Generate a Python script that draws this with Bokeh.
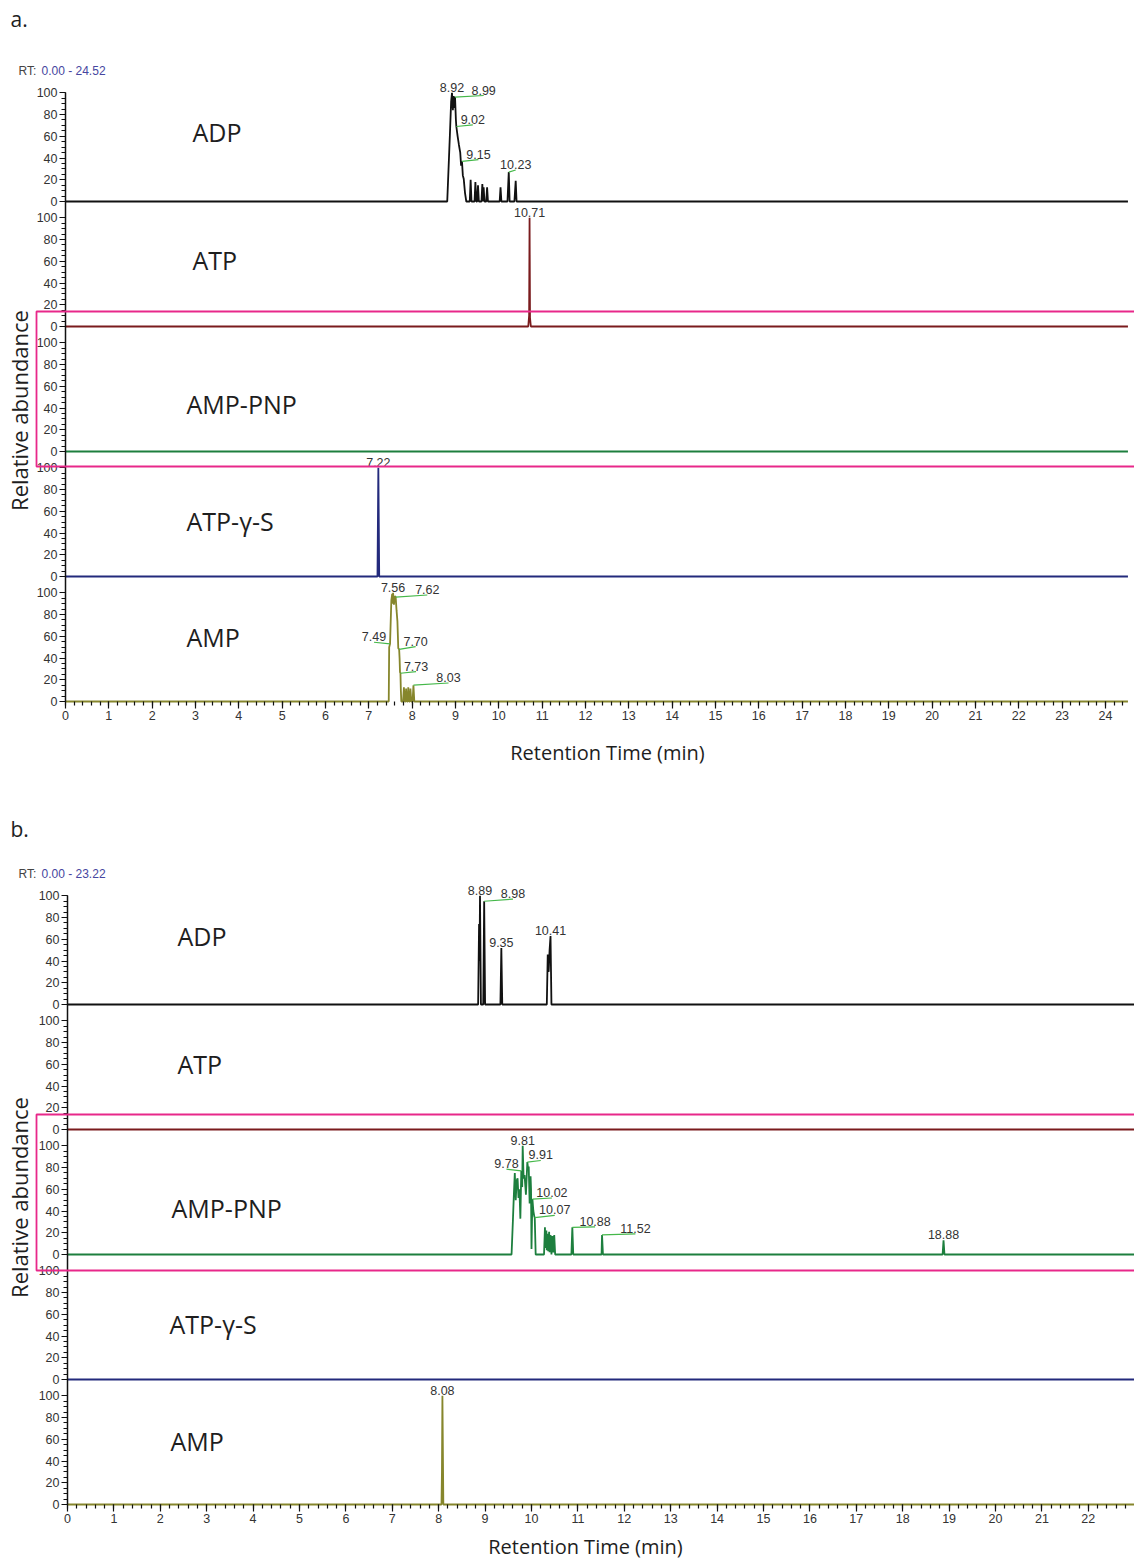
from bokeh.plotting import figure
from bokeh.models import Range1d, LinearAxis, FixedTicker, CustomJSTickFormatter, BoxAnnotation
from bokeh.layouts import column
from bokeh.embed import file_html
from bokeh.resources import INLINE
from bokeh.core.properties import value
import math

# ---------------- data ----------------
COMPOUNDS = ["ADP", "ATP", "AMP-PNP", "ATP-γ-S", "AMP"]
Y_TICK_LABELS = [0, 20, 40, 60, 80, 100]
A_X_TICKS = list(range(0, 25))
B_X_TICKS = list(range(0, 24))
A_RT_RANGE = "0.00 - 24.52"
B_RT_RANGE = "0.00 - 23.22"

# panel a traces (retention time, relative abundance)
A_ADP_T = [0.00, 8.81, 8.87, 8.90, 8.92, 8.94, 8.96, 8.97, 8.99, 9.01, 9.02, 9.05, 9.08, 9.11, 9.13, 9.15,
           9.17, 9.19, 9.22, 9.25, 9.33, 9.35, 9.37, 9.44, 9.46, 9.48, 9.50, 9.52, 9.54, 9.60, 9.62, 9.64,
           9.65, 9.67, 9.71, 9.73, 9.75, 10.02, 10.04, 10.06, 10.20, 10.23, 10.25, 10.36, 10.39, 10.41, 24.52]
A_ADP_Y = [0, 0, 60, 92, 100, 84, 97, 86, 96, 75, 69, 60, 52, 45, 33, 37,
           24, 21, 8, 0, 0, 20, 0, 0, 18, 0, 0, 15, 0, 0, 16, 0,
           13, 0, 0, 13, 0, 0, 13, 0, 0, 27, 0, 0, 19, 0, 0]
A_ATP_T = [0.00, 10.68, 10.70, 10.71, 10.72, 10.74, 24.52]
A_ATP_Y = [0, 0, 10, 100, 8, 0, 0]
A_PNP_T = [0.00, 24.52]
A_PNP_Y = [0, 0]
A_GS_T = [0.00, 7.20, 7.22, 7.24, 24.52]
A_GS_Y = [0, 0, 100, 0, 0]
A_AMP_T = [0.00, 7.46, 7.47, 7.49, 7.52, 7.54, 7.55, 7.56, 7.58, 7.60, 7.62, 7.64, 7.66, 7.68, 7.70, 7.71,
           7.72, 7.73, 7.74, 7.75, 7.79, 7.81, 7.83, 7.85, 7.86, 7.88, 7.90, 7.91, 7.93, 7.95, 7.96, 7.98,
           8.01, 8.03, 8.05, 24.52]
A_AMP_Y = [0, 0, 50, 53, 93, 99, 90, 100, 89, 97, 96, 84, 74, 49, 48, 40,
           27, 26, 10, 0, 0, 13, 0, 0, 12, 0, 0, 13, 0, 0, 12, 0,
           0, 15, 0, 0]

# panel a labelled peaks
A_ADP_PK_RT = [8.92, 8.99, 9.02, 9.15, 10.23]
A_ADP_PK_H = [100, 96, 69, 37, 27]
A_ATP_PK_RT = [10.71]
A_ATP_PK_H = [100]
A_PNP_PK_RT = []
A_PNP_PK_H = []
A_GS_PK_RT = [7.22]
A_GS_PK_H = [100]
A_AMP_PK_RT = [7.56, 7.62, 7.49, 7.70, 7.73, 8.03]
A_AMP_PK_H = [100, 96, 53, 48, 26, 15]

# panel b traces
B_ADP_T = [0.00, 8.85, 8.87, 8.88, 8.89, 8.91, 8.96, 8.98, 9.00, 9.33, 9.35, 9.37, 10.33, 10.35, 10.37,
           10.39, 10.41, 10.43, 23.22]
B_ADP_Y = [0, 0, 74, 40, 100, 0, 0, 95, 0, 0, 52, 0, 0, 46, 30, 50, 63, 0, 0]
B_ATP_T = [0.00, 23.22]
B_ATP_Y = [0, 0]
B_PNP_T = [0.00, 9.57, 9.60, 9.62, 9.64, 9.66, 9.68, 9.70, 9.72, 9.74, 9.76, 9.78, 9.80, 9.81, 9.83, 9.85,
           9.88, 9.91, 9.93, 9.94, 9.96, 9.98, 9.99, 10.00, 10.01, 10.02, 10.04, 10.06, 10.07, 10.09, 10.27,
           10.29, 10.30, 10.32, 10.33, 10.35, 10.36, 10.38, 10.39, 10.41, 10.43, 10.45, 10.47, 10.49, 10.51,
           10.86, 10.88, 10.90, 11.51, 11.52, 11.54, 18.86, 18.88, 18.90, 23.22]
B_PNP_Y = [0, 0, 32, 55, 75, 50, 68, 70, 52, 60, 33, 77, 62, 100, 70, 73,
           55, 85, 78, 81, 47, 72, 60, 5, 30, 51, 40, 35, 34, 0, 0,
           25, 6, 22, 4, 19, 3, 21, 2, 18, 0, 17, 2, 18, 0,
           0, 25, 0, 0, 18, 0, 0, 13, 0, 0]
B_GS_T = [0.00, 23.22]
B_GS_Y = [0, 0]
B_AMP_T = [0.00, 8.06, 8.07, 8.08, 8.10, 23.22]
B_AMP_Y = [0, 0, 30, 100, 0, 0]

# panel b labelled peaks
B_ADP_PK_RT = [8.89, 8.98, 9.35, 10.41]
B_ADP_PK_H = [100, 95, 52, 63]
B_ATP_PK_RT = []
B_ATP_PK_H = []
B_PNP_PK_RT = [9.81, 9.78, 9.91, 10.02, 10.07, 10.88, 11.52, 18.88]
B_PNP_PK_H = [100, 77, 85, 51, 34, 25, 18, 13]
B_GS_PK_RT = []
B_GS_PK_H = []
B_AMP_PK_RT = [8.08]
B_AMP_PK_H = [100]

# ---------------- label placement (positions, not data) ----------------
A_ADP_LAB_X = [8.92, 9.65, 9.40, 9.53, 10.39]
A_ADP_LAB_Y = [100, 97.5, 70.5, 38.5, 29]
A_AMP_LAB_X = [7.56, 8.35, 7.12, 8.08, 8.09, 8.84]
A_AMP_LAB_Y = [100, 98, 54.5, 50.5, 27.5, 17]
B_ADP_LAB_X = [8.89, 9.60, 9.35, 10.41]
B_ADP_LAB_Y = [100, 97, 52, 63]
B_PNP_LAB_X = [9.81, 9.46, 10.20, 10.44, 10.50, 11.37, 12.24, 18.88]
B_PNP_LAB_Y = [100, 78.5, 86.5, 52, 36, 25.5, 19, 13]

# ---------------- styles ----------------
COLORS = {"ADP": "#111111", "ATP": "#7a1b1d", "AMP-PNP": "#1d7f3e",
          "ATP-γ-S": "#232a7c", "AMP": "#86862c"}
LEADER = "#45b84a"
MAGENTA = "#e8288a"
W = 1134
ORIGIN_X = 0          # page x of the canvas left edge
BAND = 115            # units per band (100 % + gap)
K = 125 / BAND        # px per unit

PANELS = [
    dict(tag="a.", rt=A_RT_RANGE, top=0, height=800, x0=65, s=43.33, amp0=701,
         xticks=A_X_TICKS, minor_end=24.4,
         traces={"ADP": (A_ADP_T, A_ADP_Y, A_ADP_PK_RT, A_ADP_PK_H, A_ADP_LAB_X, A_ADP_LAB_Y),
                 "ATP": (A_ATP_T, A_ATP_Y, A_ATP_PK_RT, A_ATP_PK_H, A_ATP_PK_RT, A_ATP_PK_H),
                 "AMP-PNP": (A_PNP_T, A_PNP_Y, A_PNP_PK_RT, A_PNP_PK_H, A_PNP_PK_RT, A_PNP_PK_H),
                 "ATP-γ-S": (A_GS_T, A_GS_Y, A_GS_PK_RT, A_GS_PK_H, A_GS_PK_RT, A_GS_PK_H),
                 "AMP": (A_AMP_T, A_AMP_Y, A_AMP_PK_RT, A_AMP_PK_H, A_AMP_LAB_X, A_AMP_LAB_Y)},
         names_px=[(192, 131), (192, 259), (186, 403), (186, 520), (186, 636)],
         tag_px=(10, 18), rt_px=(18, 70), ylab_px=(18, 410), xlab_px=(607, 752),
         box_px=(36, 311, 466)),
    dict(tag="b.", rt=B_RT_RANGE, top=800, height=762, x0=67, s=46.4, amp0=1504,
         xticks=B_X_TICKS, minor_end=23.0,
         traces={"ADP": (B_ADP_T, B_ADP_Y, B_ADP_PK_RT, B_ADP_PK_H, B_ADP_LAB_X, B_ADP_LAB_Y),
                 "ATP": (B_ATP_T, B_ATP_Y, B_ATP_PK_RT, B_ATP_PK_H, B_ATP_PK_RT, B_ATP_PK_H),
                 "AMP-PNP": (B_PNP_T, B_PNP_Y, B_PNP_PK_RT, B_PNP_PK_H, B_PNP_LAB_X, B_PNP_LAB_Y),
                 "ATP-γ-S": (B_GS_T, B_GS_Y, B_GS_PK_RT, B_GS_PK_H, B_GS_PK_RT, B_GS_PK_H),
                 "AMP": (B_AMP_T, B_AMP_Y, B_AMP_PK_RT, B_AMP_PK_H, B_AMP_PK_RT, B_AMP_PK_H)},
         names_px=[(177, 935), (177, 1063), (171, 1207), (169, 1323), (170, 1440)],
         tag_px=(10, 828), rt_px=(18, 873), ylab_px=(18, 1197), xlab_px=(585, 1546),
         box_px=(36, 1114, 1270)),
]

SANS = value("Liberation Sans")
MYRIAD = value("Open Sans")


def make_panel(P):
    top, H, x0p, s, amp0 = P["top"], P["height"], P["x0"], P["s"], P["amp0"]
    c0 = amp0 - top
    x0c = x0p - ORIGIN_X
    xr = Range1d(-x0c / s, (W - x0c) / s)
    yr = Range1d(-(H - c0) / K, c0 / K)

    def X(px):
        return (px - x0p) / s

    def Y(py):
        return (c0 - (py - top)) / K

    p = figure(width=W, height=H, x_range=xr, y_range=yr, output_backend="svg",
               toolbar_location=None, x_axis_location=None, y_axis_location=None,
               min_border_left=0, min_border_right=0, min_border_top=0, min_border_bottom=0,
               outline_line_color=None, title=None,
               background_fill_color="white", border_fill_color="white")
    p.xgrid.grid_line_color = None
    p.ygrid.grid_line_color = None

    offsets = [(4 - i) * BAND for i in range(5)]
    p.extra_y_ranges = {name: Range1d(yr.start - off, yr.end - off)
                        for name, off in zip(COMPOUNDS, offsets)}

    for i, name in enumerate(COMPOUNDS):
        t, y, prt, ph, lx, ly = P["traces"][name]
        col = COLORS[name]
        p.line(x=t, y=y, line_color=col, line_width=1.8, y_range_name=name)
        if prt:
            p.segment(x0=prt, y0=ph, x1=lx, y1=ly, line_color=LEADER, line_width=1.2,
                      y_range_name=name)
            p.text(x=lx, y=ly, text=[f"{r:.2f}" for r in prt], text_align="center",
                   text_baseline="bottom", y_offset=-1, text_font=SANS,
                   text_font_size="12.5px", text_color="#333333", y_range_name=name)
        nx, ny = P["names_px"][i]
        p.text(x=[X(nx)], y=[Y(ny)], text=[name], text_align="left", text_baseline="middle",
               text_font=MYRIAD, text_font_size="25px", text_color="#1e1e1e")

    # y axis (one per panel, repeated 0-100 scale for each band)
    yticks = [off + v for off in offsets for v in Y_TICK_LABELS]
    yminor = [off + v for off in offsets for v in range(0, 101, 5)]
    yax = LinearAxis(fixed_location=0, bounds=(0, 4 * BAND + 100),
                     ticker=FixedTicker(ticks=yticks, minor_ticks=yminor),
                     formatter=CustomJSTickFormatter(args=dict(band=BAND),
                         code="const r = ((tick % band) + band) % band; return String(Math.round(r));"),
                     major_tick_in=0, major_tick_out=6, minor_tick_in=0, minor_tick_out=4,
                     axis_line_width=1.5, axis_line_color="#111111",
                     major_tick_line_color="#111111", minor_tick_line_color="#111111",
                     major_tick_line_width=1.2, minor_tick_line_width=1.2,
                     major_label_standoff=2, major_label_text_font="Liberation Sans",
                     major_label_text_font_size="12.5px", major_label_text_color="#333333")
    p.add_layout(yax, "left")

    xminor = [round(0.2 * k, 1) for k in range(0, int(round(P["minor_end"] / 0.2)) + 1)]
    xax = LinearAxis(fixed_location=0,
                     ticker=FixedTicker(ticks=P["xticks"], minor_ticks=xminor),
                     axis_line_color=None,
                     major_tick_in=0, major_tick_out=7, minor_tick_in=0, minor_tick_out=4,
                     major_tick_line_color="#111111", minor_tick_line_color="#111111",
                     major_tick_line_width=1.2, minor_tick_line_width=1.2,
                     major_label_standoff=2, major_label_text_font="Liberation Sans",
                     major_label_text_font_size="12.5px", major_label_text_color="#333333")
    p.add_layout(xax, "below")

    # texts
    tx, ty = P["tag_px"]
    p.text(x=[X(tx)], y=[Y(ty)], text=[P["tag"]], text_baseline="middle",
           text_font=MYRIAD, text_font_size="21px", text_color="#1e1e1e")
    rx, ry = P["rt_px"]
    p.text(x=[X(rx)], y=[Y(ry)], text=["RT:"], text_baseline="middle",
           text_font=SANS, text_font_size="12px", text_color="#444444")
    p.text(x=[X(rx + 23)], y=[Y(ry)], text=[P["rt"]], text_baseline="middle",
           text_font=SANS, text_font_size="12px", text_color="#4646a0")
    lx_, ly_ = P["ylab_px"]
    p.text(x=[X(lx_)], y=[Y(ly_)], text=["Relative abundance"], angle=math.pi / 2,
           text_align="center", text_baseline="middle",
           text_font=MYRIAD, text_font_size="22px", text_color="#1e1e1e")
    xx, xy = P["xlab_px"]
    p.text(x=[X(xx)], y=[Y(xy)], text=["Retention Time (min)"], text_align="center",
           text_baseline="middle", text_font=MYRIAD, text_font_size="20px", text_color="#1e1e1e")

    bl, bt, bb = P["box_px"]
    p.add_layout(BoxAnnotation(left=X(bl), right=xr.end + 2, top=Y(bt), bottom=Y(bb),
                               fill_color=None, fill_alpha=0, line_color=MAGENTA,
                               line_alpha=1.0, line_width=1.8))
    return p


layout = column(*[make_panel(P) for P in PANELS], spacing=0)
open("out.html", "w").write(file_html(layout, INLINE))
